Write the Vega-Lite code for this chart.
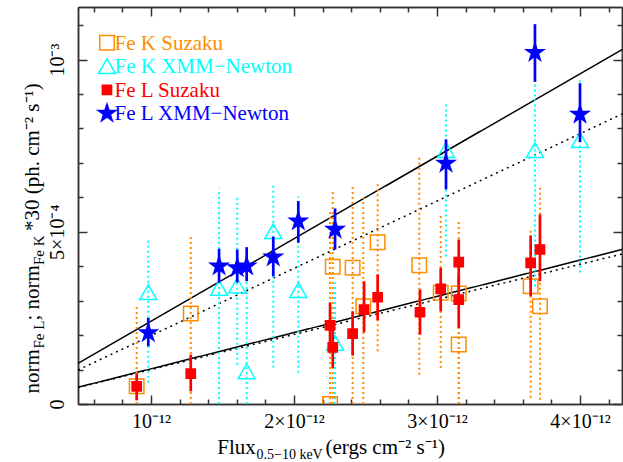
{
  "$schema": "https://vega.github.io/schema/vega-lite/v6.json",
  "width": 544,
  "height": 397,
  "autosize": {"type": "none"},
  "padding": {"left": 78, "top": 7, "right": 1, "bottom": 58},
  "background": "white",
  "config": {
    "view": {"stroke": null},
    "axis": {
      "grid": false,
      "domainColor": "#333333",
      "domainWidth": 1.5,
      "tickColor": "#333333",
      "tickWidth": 1.5,
      "labelFont": "Liberation Serif",
      "labelFontSize": 20,
      "labelColor": "black",
      "titleFont": "Liberation Serif",
      "titleFontSize": 21,
      "titleFontWeight": "normal",
      "titleColor": "black",
      "titleBaseline": "alphabetic",
      "titleAlign": "left"
    }
  },
  "datasets": {
    "fits": [
      {"fit": "Fe L XMM−Newton", "style": "solid", "flux": 4.895e-13, "norm": 1.181e-4},
      {"fit": "Fe L XMM−Newton", "style": "solid", "flux": 4.2937e-12, "norm": 1.0287e-3},
      {"fit": "Fe K XMM−Newton", "style": "dotted", "flux": 4.895e-13, "norm": 9.87e-5},
      {"fit": "Fe K XMM−Newton", "style": "dotted", "flux": 4.2937e-12, "norm": 8.418e-4},
      {"fit": "Fe L Suzaku", "style": "solid", "flux": 4.895e-13, "norm": 4.85e-5},
      {"fit": "Fe L Suzaku", "style": "solid", "flux": 4.2937e-12, "norm": 4.485e-4},
      {"fit": "Fe K Suzaku", "style": "dotted", "flux": 4.895e-13, "norm": 4.79e-5},
      {"fit": "Fe K Suzaku", "style": "dotted", "flux": 4.2937e-12, "norm": 4.354e-4}
    ],
    "legend": [
      {"series": "Fe K Suzaku"},
      {"series": "Fe K XMM−Newton"},
      {"series": "Fe L Suzaku"},
      {"series": "Fe L XMM−Newton"}
    ],
    "pts": [
      {"series": "Fe K Suzaku", "flux": 9.00e-13, "norm": 5.12e-5, "lo": 0, "hi": 2.887e-4},
      {"series": "Fe K Suzaku", "flux": 1.278e-12, "norm": 2.625e-4, "lo": 0, "hi": 4.855e-4},
      {"series": "Fe K Suzaku", "flux": 2.252e-12, "norm": 0, "lo": 0, "hi": 5.59e-4},
      {"series": "Fe K Suzaku", "flux": 2.271e-12, "norm": 3.983e-4, "lo": 0, "hi": 6.18e-4},
      {"series": "Fe K Suzaku", "flux": 2.410e-12, "norm": 3.953e-4, "lo": 0, "hi": 6.346e-4},
      {"series": "Fe K Suzaku", "flux": 2.485e-12, "norm": 2.837e-4, "lo": 0, "hi": 5.997e-4},
      {"series": "Fe K Suzaku", "flux": 2.585e-12, "norm": 4.698e-4, "lo": 1.529e-4, "hi": 6.433e-4},
      {"series": "Fe K Suzaku", "flux": 2.876e-12, "norm": 4.029e-4, "lo": 8.52e-5, "hi": 7.218e-4},
      {"series": "Fe K Suzaku", "flux": 3.026e-12, "norm": 3.227e-4, "lo": 1.047e-4, "hi": 5.474e-4},
      {"series": "Fe K Suzaku", "flux": 3.152e-12, "norm": 3.206e-4, "lo": 0, "hi": 5.358e-4},
      {"series": "Fe K Suzaku", "flux": 3.152e-12, "norm": 1.724e-4, "lo": 0, "hi": 3.45e-4},
      {"series": "Fe K Suzaku", "flux": 3.655e-12, "norm": 3.419e-4, "lo": 1.83e-5, "hi": 5.125e-4},
      {"series": "Fe K Suzaku", "flux": 3.720e-12, "norm": 2.837e-4, "lo": 1.25e-5, "hi": 6.323e-4},
      {"series": "Fe K XMM−Newton", "flux": 9.81e-13, "norm": 3.244e-4, "lo": 6.19e-5, "hi": 4.747e-4},
      {"series": "Fe K XMM−Newton", "flux": 1.476e-12, "norm": 3.372e-4, "lo": 0, "hi": 6.259e-4},
      {"series": "Fe K XMM−Newton", "flux": 1.603e-12, "norm": 3.439e-4, "lo": 1.142e-4, "hi": 6.055e-4},
      {"series": "Fe K XMM−Newton", "flux": 1.669e-12, "norm": 9.48e-5, "lo": 0, "hi": 3.73e-4},
      {"series": "Fe K XMM−Newton", "flux": 1.855e-12, "norm": 5.017e-4, "lo": 1.055e-4, "hi": 6.375e-4},
      {"series": "Fe K XMM−Newton", "flux": 2.030e-12, "norm": 3.302e-4, "lo": 9.10e-5, "hi": 6.026e-4},
      {"series": "Fe K XMM−Newton", "flux": 2.287e-12, "norm": 1.773e-4, "lo": 0, "hi": 3.526e-4},
      {"series": "Fe K XMM−Newton", "flux": 3.063e-12, "norm": 7.372e-4, "lo": 4.282e-4, "hi": 8.759e-4},
      {"series": "Fe K XMM−Newton", "flux": 3.685e-12, "norm": 7.372e-4, "lo": 3.41e-4, "hi": 9.34e-4},
      {"series": "Fe K XMM−Newton", "flux": 4.000e-12, "norm": 7.663e-4, "lo": 3.817e-4, "hi": 9.427e-4},
      {"series": "Fe L Suzaku", "flux": 9.00e-13, "norm": 5.12e-5, "lo": 1.05e-5, "hi": 8.81e-5},
      {"series": "Fe L Suzaku", "flux": 1.278e-12, "norm": 8.81e-5, "lo": 3.66e-5, "hi": 1.433e-4},
      {"series": "Fe L Suzaku", "flux": 2.252e-12, "norm": 2.285e-4, "lo": 1.674e-4, "hi": 2.936e-4},
      {"series": "Fe L Suzaku", "flux": 2.271e-12, "norm": 1.645e-4, "lo": 1.047e-4, "hi": 2.256e-4},
      {"series": "Fe L Suzaku", "flux": 2.410e-12, "norm": 2.044e-4, "lo": 1.404e-4, "hi": 2.692e-4},
      {"series": "Fe L Suzaku", "flux": 2.490e-12, "norm": 2.741e-4, "lo": 2.081e-4, "hi": 3.564e-4},
      {"series": "Fe L Suzaku", "flux": 2.585e-12, "norm": 3.099e-4, "lo": 2.430e-4, "hi": 3.759e-4},
      {"series": "Fe L Suzaku", "flux": 2.881e-12, "norm": 2.663e-4, "lo": 2.015e-4, "hi": 3.323e-4},
      {"series": "Fe L Suzaku", "flux": 3.026e-12, "norm": 3.343e-4, "lo": 2.692e-4, "hi": 3.953e-4},
      {"series": "Fe L Suzaku", "flux": 3.152e-12, "norm": 4.116e-4, "lo": 3.468e-4, "hi": 4.776e-4},
      {"series": "Fe L Suzaku", "flux": 3.152e-12, "norm": 3.032e-4, "lo": 2.209e-4, "hi": 3.701e-4},
      {"series": "Fe L Suzaku", "flux": 3.655e-12, "norm": 4.099e-4, "lo": 3.128e-4, "hi": 4.892e-4},
      {"series": "Fe L Suzaku", "flux": 3.720e-12, "norm": 4.485e-4, "lo": 3.564e-4, "hi": 5.503e-4},
      {"series": "Fe L XMM−Newton", "flux": 9.81e-13, "norm": 2.064e-4, "lo": 1.674e-4, "hi": 2.500e-4},
      {"series": "Fe L XMM−Newton", "flux": 1.476e-12, "norm": 4.000e-4, "lo": 3.517e-4, "hi": 4.506e-4},
      {"series": "Fe L XMM−Newton", "flux": 1.603e-12, "norm": 3.953e-4, "lo": 3.526e-4, "hi": 4.485e-4},
      {"series": "Fe L XMM−Newton", "flux": 1.669e-12, "norm": 4.000e-4, "lo": 3.564e-4, "hi": 4.552e-4},
      {"series": "Fe L XMM−Newton", "flux": 1.855e-12, "norm": 4.262e-4, "lo": 3.709e-4, "hi": 4.855e-4},
      {"series": "Fe L XMM−Newton", "flux": 2.030e-12, "norm": 5.308e-4, "lo": 4.680e-4, "hi": 5.890e-4},
      {"series": "Fe L XMM−Newton", "flux": 2.287e-12, "norm": 5.067e-4, "lo": 4.485e-4, "hi": 5.677e-4},
      {"series": "Fe L XMM−Newton", "flux": 3.063e-12, "norm": 6.985e-4, "lo": 6.230e-4, "hi": 7.683e-4},
      {"series": "Fe L XMM−Newton", "flux": 3.685e-12, "norm": 1.0203e-3, "lo": 9.349e-4, "hi": 1.1026e-3},
      {"series": "Fe L XMM−Newton", "flux": 4.000e-12, "norm": 8.410e-4, "lo": 7.605e-4, "hi": 9.311e-4}
    ]
  },
  "layer": [
    {
      "data": {"name": "fits"},
      "mark": {"type": "line", "color": "black", "strokeWidth": 1.5, "clip": true},
      "encoding": {
        "x": {"field": "flux", "type": "quantitative",
          "scale": {"domain": [4.895e-13, 4.2937e-12], "nice": false, "zero": false},
          "axis": {"orient": "bottom", "values": [1e-12, 2e-12, 3e-12, 4e-12], "tickSize": -9, "labelPadding": 16,
            "labelFlush": false, "labelOverlap": false,
            "labelExpr": "round(datum.value*1e12) == 1 ? '10⁻¹²' : round(datum.value*1e12) + '×10⁻¹²'",
            "title": "Flux", "titleX": 138.7, "titleY": 49}},
        "y": {"field": "norm", "type": "quantitative",
          "scale": {"domain": [0, 1.1524e-3], "nice": false, "zero": false},
          "axis": {"orient": "left", "values": [0, 5e-4, 1e-3], "tickSize": -9, "labelPadding": 20,
            "labelAngle": -90, "labelAlign": "center", "labelBaseline": "bottom", "labelFlush": false, "labelOverlap": false,
            "labelExpr": "datum.value == 0 ? '0' : (round(datum.value*1e4) == 10 ? '10⁻³' : '5×10⁻⁴')",
            "title": "norm", "titleAngle": -90, "titleX": -40, "titleY": 386}},
        "detail": {"field": "fit"},
        "strokeDash": {"field": "style", "type": "nominal", "scale": {"domain": ["solid", "dotted"], "range": [[1, 0], [2, 4]]}, "legend": null}
      }
    },
    {
      "data": {"name": "pts"},
      "transform": [{"filter": "indexof(datum.series, 'Fe K') == 0"}],
      "mark": {"type": "rule", "strokeWidth": 2, "strokeDash": [2, 3], "clip": true},
      "encoding": {
        "x": {"field": "flux", "type": "quantitative",
          "axis": {"orient": "bottom", "values": [6e-13, 8e-13, 1.2e-12, 1.4e-12, 1.6e-12, 1.8e-12, 2.2e-12, 2.4e-12, 2.6e-12, 2.8e-12, 3.2e-12, 3.4e-12, 3.6e-12, 3.8e-12, 4.2e-12], "tickSize": -5, "labels": false,
            "title": "0.5−10 keV", "titleFontSize": 14, "titleX": 178, "titleY": 54}},
        "y": {"field": "lo", "type": "quantitative",
          "scale": {"domain": [0, 1.1524e-3], "nice": false, "zero": false},
          "axis": {"orient": "left", "values": [1e-4, 2e-4, 3e-4, 4e-4, 6e-4, 7e-4, 8e-4, 9e-4, 1.1e-3], "tickSize": -5, "labels": false,
            "title": "Fe L", "titleFontSize": 15, "titleAngle": -90, "titleX": -35, "titleY": 341}},
        "y2": {"field": "hi"},
        "stroke": {"field": "series", "type": "nominal",
          "scale": {"domain": ["Fe K Suzaku", "Fe K XMM−Newton", "Fe L Suzaku", "Fe L XMM−Newton"], "range": ["#ff8c00", "#00ffff", "#ff0000", "#0000ff"]},
          "legend": null}
      }
    },
    {
      "data": {"name": "pts"},
      "transform": [{"filter": "indexof(datum.series, 'Fe K') == 0"}],
      "mark": {"type": "point", "opacity": 1, "strokeWidth": 1.5, "clip": true},
      "encoding": {
        "x": {"field": "flux", "type": "quantitative",
          "axis": {"orient": "top", "values": [1e-12, 2e-12, 3e-12, 4e-12], "tickSize": -9, "labels": false,
            "title": "(ergs cm⁻² s⁻¹)", "titleX": 247, "titleY": 446}},
        "y": {"field": "norm", "type": "quantitative",
          "scale": {"domain": [0, 1.1524e-3], "nice": false, "zero": false},
          "axis": {"orient": "right", "values": [0, 5e-4, 1e-3], "tickSize": -9, "labels": false,
            "title": "; norm", "titleAngle": -90, "titleX": -584, "titleY": 313}},
        "stroke": {"field": "series", "type": "nominal",
          "scale": {"domain": ["Fe K Suzaku", "Fe K XMM−Newton", "Fe L Suzaku", "Fe L XMM−Newton"], "range": ["#ff8c00", "#00ffff", "#ff0000", "#0000ff"]},
          "legend": null},
        "fill": {"field": "series", "type": "nominal",
          "scale": {"domain": ["Fe K Suzaku", "Fe K XMM−Newton", "Fe L Suzaku", "Fe L XMM−Newton"], "range": ["transparent", "transparent", "#ff0000", "#0000ff"]},
          "legend": null},
        "shape": {"field": "series", "type": "nominal",
          "scale": {"domain": ["Fe K Suzaku", "Fe K XMM−Newton", "Fe L Suzaku", "Fe L XMM−Newton"], "range": ["square", "triangle-up", "square", "M0,-1L0.2245,-0.309L0.9511,-0.309L0.3633,0.118L0.5878,0.809L0,0.382L-0.5878,0.809L-0.3633,0.118L-0.9511,-0.309L-0.2245,-0.309Z"]},
          "legend": null},
        "size": {"field": "series", "type": "nominal",
          "scale": {"type": "ordinal", "domain": ["Fe K Suzaku", "Fe K XMM−Newton", "Fe L Suzaku", "Fe L XMM−Newton"], "range": [210, 290, 85, 340]},
          "legend": null}
      }
    },
    {
      "data": {"name": "pts"},
      "transform": [{"filter": "indexof(datum.series, 'Fe L') == 0"}],
      "mark": {"type": "rule", "strokeWidth": 2.7, "clip": true},
      "encoding": {
        "x": {"field": "flux", "type": "quantitative",
          "axis": {"orient": "top", "values": [6e-13, 8e-13, 1.2e-12, 1.4e-12, 1.6e-12, 1.8e-12, 2.2e-12, 2.4e-12, 2.6e-12, 2.8e-12, 3.2e-12, 3.4e-12, 3.6e-12, 3.8e-12, 4.2e-12], "tickSize": -5, "labels": false,
            "title": "*30 (ph. cm⁻² s⁻¹)", "titleAngle": -90, "titleX": -40, "titleY": 223.6}},
        "y": {"field": "lo", "type": "quantitative",
          "scale": {"domain": [0, 1.1524e-3], "nice": false, "zero": false},
          "axis": {"orient": "right", "values": [1e-4, 2e-4, 3e-4, 4e-4, 6e-4, 7e-4, 8e-4, 9e-4, 1.1e-3], "tickSize": -5, "labels": false,
            "title": "Fe K", "titleFontSize": 15, "titleAngle": -90, "titleX": -579, "titleY": 257.5}},
        "y2": {"field": "hi"},
        "stroke": {"field": "series", "type": "nominal",
          "scale": {"domain": ["Fe K Suzaku", "Fe K XMM−Newton", "Fe L Suzaku", "Fe L XMM−Newton"], "range": ["#ff8c00", "#00ffff", "#ff0000", "#0000ff"]},
          "legend": null}
      }
    },
    {
      "data": {"name": "pts"},
      "transform": [{"filter": "indexof(datum.series, 'Fe L') == 0"}],
      "mark": {"type": "point", "opacity": 1, "strokeWidth": 1.5, "clip": true},
      "encoding": {
        "x": {"field": "flux", "type": "quantitative", "axis": null},
        "y": {"field": "norm", "type": "quantitative", "axis": null,
          "scale": {"domain": [0, 1.1524e-3], "nice": false, "zero": false}},
        "stroke": {"field": "series", "type": "nominal",
          "scale": {"domain": ["Fe K Suzaku", "Fe K XMM−Newton", "Fe L Suzaku", "Fe L XMM−Newton"], "range": ["#ff8c00", "#00ffff", "#ff0000", "#0000ff"]},
          "legend": null},
        "fill": {"field": "series", "type": "nominal",
          "scale": {"domain": ["Fe K Suzaku", "Fe K XMM−Newton", "Fe L Suzaku", "Fe L XMM−Newton"], "range": ["transparent", "transparent", "#ff0000", "#0000ff"]},
          "legend": null},
        "shape": {"field": "series", "type": "nominal",
          "scale": {"domain": ["Fe K Suzaku", "Fe K XMM−Newton", "Fe L Suzaku", "Fe L XMM−Newton"], "range": ["square", "triangle-up", "square", "M0,-1L0.2245,-0.309L0.9511,-0.309L0.3633,0.118L0.5878,0.809L0,0.382L-0.5878,0.809L-0.3633,0.118L-0.9511,-0.309L-0.2245,-0.309Z"]},
          "legend": null},
        "size": {"field": "series", "type": "nominal",
          "scale": {"type": "ordinal", "domain": ["Fe K Suzaku", "Fe K XMM−Newton", "Fe L Suzaku", "Fe L XMM−Newton"], "range": [210, 290, 85, 340]},
          "legend": null}
      }
    },
    {
      "data": {"name": "legend"},
      "mark": {"type": "point", "opacity": 1, "strokeWidth": 1.5},
      "encoding": {
        "x": {"datum": 6.92e-13, "type": "quantitative", "axis": null},
        "y": {"field": "series", "type": "nominal", "axis": null,
          "scale": {"type": "point", "domain": ["Fe K Suzaku", "Fe K XMM−Newton", "Fe L Suzaku", "Fe L XMM−Newton"], "range": [35.7, 106.3], "padding": 0}},
        "stroke": {"field": "series", "type": "nominal",
          "scale": {"domain": ["Fe K Suzaku", "Fe K XMM−Newton", "Fe L Suzaku", "Fe L XMM−Newton"], "range": ["#ff8c00", "#00ffff", "#ff0000", "#0000ff"]},
          "legend": null},
        "fill": {"field": "series", "type": "nominal",
          "scale": {"domain": ["Fe K Suzaku", "Fe K XMM−Newton", "Fe L Suzaku", "Fe L XMM−Newton"], "range": ["transparent", "transparent", "#ff0000", "#0000ff"]},
          "legend": null},
        "shape": {"field": "series", "type": "nominal",
          "scale": {"domain": ["Fe K Suzaku", "Fe K XMM−Newton", "Fe L Suzaku", "Fe L XMM−Newton"], "range": ["square", "triangle-up", "square", "M0,-1L0.2245,-0.309L0.9511,-0.309L0.3633,0.118L0.5878,0.809L0,0.382L-0.5878,0.809L-0.3633,0.118L-0.9511,-0.309L-0.2245,-0.309Z"]},
          "legend": null},
        "size": {"field": "series", "type": "nominal",
          "scale": {"type": "ordinal", "domain": ["Fe K Suzaku", "Fe K XMM−Newton", "Fe L Suzaku", "Fe L XMM−Newton"], "range": [210, 290, 85, 340]},
          "legend": null}
      }
    },
    {
      "data": {"name": "legend"},
      "mark": {"type": "text", "align": "left", "baseline": "middle", "dy": 1, "font": "Liberation Serif", "fontSize": 21},
      "encoding": {
        "x": {"datum": 7.45e-13, "type": "quantitative", "axis": null},
        "y": {"field": "series", "type": "nominal", "axis": null,
          "scale": {"type": "point", "domain": ["Fe K Suzaku", "Fe K XMM−Newton", "Fe L Suzaku", "Fe L XMM−Newton"], "range": [35.7, 106.3], "padding": 0}},
        "text": {"field": "series"},
        "color": {"field": "series", "type": "nominal",
          "scale": {"domain": ["Fe K Suzaku", "Fe K XMM−Newton", "Fe L Suzaku", "Fe L XMM−Newton"], "range": ["#ff8c00", "#00ffff", "#ff0000", "#0000ff"]},
          "legend": null}
      }
    }
  ],
  "resolve": {"axis": {"x": "independent", "y": "independent"}, "scale": {"y": "independent"}}
}
